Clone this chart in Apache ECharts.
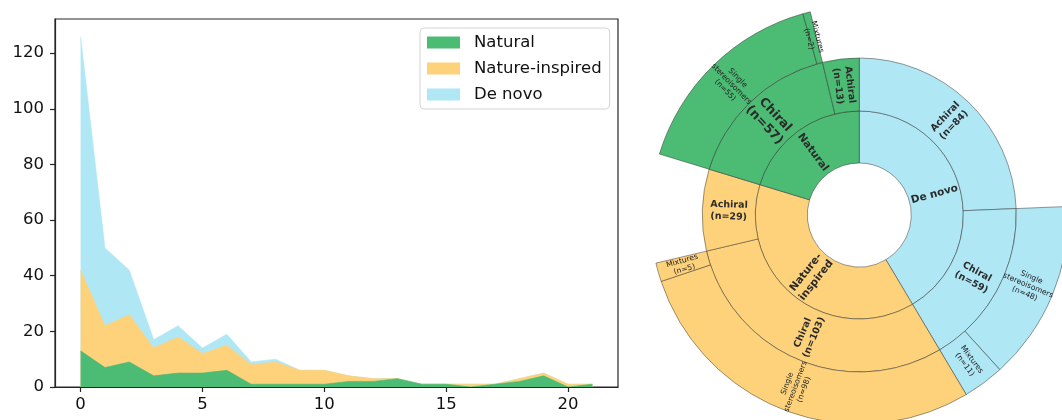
<!DOCTYPE html>
<html>
<head>
<meta charset="utf-8">
<script src="https://cdn.jsdelivr.net/npm/echarts@6/dist/echarts.min.js"></script>
<style>
  html, body { margin: 0; padding: 0; background: #fff; }
  #chart { width: 1062px; height: 420px; }
</style>
</head>
<body>
<div id="chart"></div>
<script>
// ---- Area chart data ----
const xValues = [0,1,2,3,4,5,6,7,8,9,10,11,12,13,14,15,16,17,18,19,20,21];
const natural = [13,7,9,4,5,5,6,1,1,1,1,2,2,3,1,1,0,1,2,4,0,1];
const natureInspired = [29,15,17,10,13,7,9,7,8,5,5,2,1,0,0,0,1,0,1,1,1,0];
const deNovo = [84,28,16,3,4,2,4,1,1,0,0,0,0,0,0,0,0,0,0,0,0,0];
const xTicks = [0,5,10,15,20];
const yTicks = [0,20,40,60,80,100,120];
const seriesNames = ['Natural','Nature-inspired','De novo'];

// ---- Sunburst data ----
const groupNames = ['De novo','Nature-inspired','Natural'];
const groupLabels = ['De novo','Nature-\ninspired','Natural'];
const achiralCounts = [84, 29, 13];
const singleCounts = [48, 98, 55];
const mixtureCounts = [11, 5, 2];

const COLORS = { 'Natural': '#4cbb74', 'Nature-inspired': '#fed27b', 'De novo': '#afe7f5' };
const FONT = 'DejaVu Sans';

// Stacked layers (cumulative tops), drawn back-to-front so each fill covers the one below
const layers = [natural, natureInspired, deNovo];
const cumulative = layers.map((_, k) =>
  xValues.map((x, i) => {
    let s = 0;
    for (let j = 0; j <= k; j++) s += layers[j][i];
    return [x, s];
  })
);

const sunData = groupNames.map((g, i) => {
  const col = COLORS[g];
  const chiral = singleCounts[i] + mixtureCounts[i];
  const chiralNode = {
    name: 'Chiral\n(n=' + chiral + ')',
    itemStyle: { color: col },
    children: [
      { name: 'Single\nstereoisomers\n(n=' + singleCounts[i] + ')', value: singleCounts[i], itemStyle: { color: col } },
      { name: 'Mixtures\n(n=' + mixtureCounts[i] + ')', value: mixtureCounts[i], itemStyle: { color: col } }
    ]
  };
  if (g === 'Natural') chiralNode.label = { fontSize: 12.5, lineHeight: 15 };
  const achiralNode = { name: 'Achiral\n(n=' + achiralCounts[i] + ')', value: achiralCounts[i], itemStyle: { color: col } };
  return {
    name: groupLabels[i],
    itemStyle: { color: col },
    children: [achiralNode, chiralNode]
  };
});

const chart = echarts.init(document.getElementById('chart'), null, { renderer: 'canvas' });

const areaSeries = seriesNames.map((nm, k) => ({
  name: nm,
  type: 'line',
  data: cumulative[k],
  showSymbol: false,
  symbol: 'none',
  lineStyle: { width: 0.6, color: COLORS[nm] },
  itemStyle: { color: COLORS[nm] },
  areaStyle: { color: COLORS[nm], opacity: 1, origin: 'start' },
  z: 10 - k
}));

const option = {
  animation: false,
  backgroundColor: '#fff',
  textStyle: { fontFamily: FONT },
  grid: {
    left: 55, top: 19, width: 563, height: 368,
    show: true, borderColor: '#262626', borderWidth: 1.2, backgroundColor: 'transparent'
  },
  legend: {
    orient: 'vertical',
    left: 420, top: 28,
    padding: [5, 8, 5, 7],
    itemWidth: 33, itemHeight: 12, itemGap: 7,
    icon: 'rect',
    data: seriesNames,
    textStyle: { fontSize: 16.5, fontFamily: FONT, color: '#111', lineHeight: 19, padding: [0, 0, 0, 9] },
    borderColor: '#d4d4d4', borderWidth: 1, borderRadius: 4,
    backgroundColor: '#fff',
    z: 20
  },
  xAxis: {
    type: 'value',
    min: -1.05, max: 22.05,
    splitLine: { show: false },
    axisLine: { show: true, onZero: false, lineStyle: { color: '#262626', width: 1.2 } },
    axisTick: { show: true, length: 5, lineStyle: { color: '#262626', width: 1.2 }, customValues: xTicks },
    axisLabel: { fontSize: 16.5, color: '#111', margin: 9, fontFamily: FONT, customValues: xTicks },
    z: 15
  },
  yAxis: {
    type: 'value',
    min: 0, max: 132.3,
    splitLine: { show: false },
    axisLine: { show: true, onZero: false, lineStyle: { color: '#262626', width: 1.2 } },
    axisTick: { show: true, length: 5, lineStyle: { color: '#262626', width: 1.2 }, customValues: yTicks },
    axisLabel: { fontSize: 16.5, color: '#111', margin: 11, fontFamily: FONT, customValues: yTicks },
    z: 15
  },
  series: areaSeries.concat([{
    type: 'sunburst',
    center: [859.3, 215],
    radius: [52, 209],
    startAngle: 90,
    sort: 'desc',
    nodeClick: false,
    emphasis: { disabled: true },
    data: sunData,
    itemStyle: { borderColor: 'rgba(45,45,45,0.6)', borderWidth: 0.8 },
    label: { color: '#2b2b2b', fontFamily: FONT, rotate: 'radial', align: 'center' },
    levels: [
      {},
      { r0: 52, r: 104, label: { rotate: 'radial', fontSize: 10.5, fontWeight: 'bold', lineHeight: 13 } },
      { r0: 104, r: 157, label: { rotate: 'radial', fontSize: 9.5, fontWeight: 'bold', lineHeight: 12 } },
      { r0: 157, r: 209, label: { rotate: 'radial', fontSize: 7.6, color: '#222', lineHeight: 8.8 } }
    ]
  }])
};

chart.setOption(option);
</script>
</body>
</html>
